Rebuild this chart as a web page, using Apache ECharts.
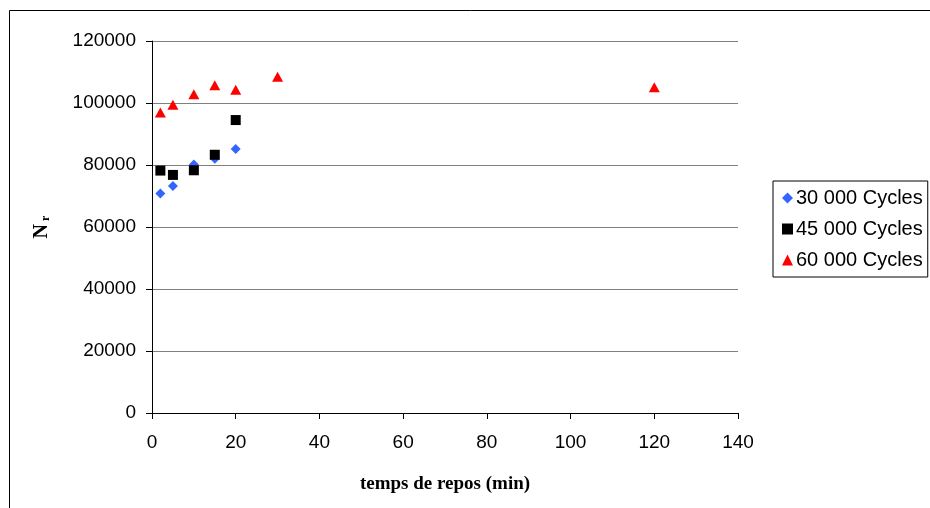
<!DOCTYPE html>
<html>
<head>
<meta charset="utf-8">
<script src="https://cdn.jsdelivr.net/npm/echarts@6/dist/echarts.min.js"></script>
<style>
  html, body { margin: 0; padding: 0; background: #fff; }
  #chart { width: 930px; height: 508px; }
</style>
</head>
<body>
<div id="chart"></div>
<script>
// temps de repos (min) et N r
const seriesNames = ['30 000 Cycles', '45 000 Cycles', '60 000 Cycles'];
const tempsA = [2, 5, 10, 15, 20];
const nrA = [70800, 73200, 80200, 82000, 85200];
const tempsB = [2, 5, 10, 15, 20];
const nrB = [78200, 76800, 78300, 83300, 94500];
const tempsC = [2, 5, 10, 15, 20, 30, 120];
const nrC = [96900, 99400, 102800, 105700, 104300, 108500, 105100];

const pairs = (xs, ys) => xs.map((x, i) => [x, ys[i]]);

const chart = echarts.init(document.getElementById('chart'));

const labelFont = { fontFamily: 'Liberation Sans, Arial, sans-serif', fontSize: 19, color: '#000' };

chart.setOption({
  animation: false,
  backgroundColor: '#fff',
  graphic: [
    {
      type: 'rect',
      shape: { x: 9.5, y: 10.5, width: 1000, height: 1000 },
      style: { fill: 'none', stroke: '#000', lineWidth: 1 },
      silent: true
    }
  ],
  grid: { left: 152, right: 192, top: 41, bottom: 95 },
  legend: {
    orient: 'vertical',
    left: 773,
    top: 181,
    padding: [7, 5, 7, 9],
    itemGap: 11,
    itemWidth: 11,
    itemHeight: 11,
    borderColor: '#000',
    borderWidth: 1,
    textStyle: { fontFamily: 'Liberation Sans, Arial, sans-serif', fontSize: 20, color: '#000', padding: [0, 0, 0, -2] },
    data: seriesNames
  },
  xAxis: {
    type: 'value',
    min: 0,
    max: 140,
    interval: 20,
    name: 'temps de repos (min)',
    nameLocation: 'middle',
    nameGap: 62,
    nameTextStyle: { fontFamily: 'Liberation Serif, Times New Roman, serif', fontWeight: 'bold', fontSize: 19, color: '#000' },
    axisLine: { show: true, lineStyle: { color: '#000', width: 1 } },
    axisTick: { show: true, length: 6, lineStyle: { color: '#000' } },
    axisLabel: Object.assign({ margin: 20 }, labelFont),
    splitLine: { show: false }
  },
  yAxis: {
    type: 'value',
    min: 0,
    max: 120000,
    interval: 20000,
    name: '{n|N}{r| r}',
    nameLocation: 'middle',
    nameGap: 100,
    nameRotate: 90,
    nameTextStyle: {
      rich: {
        n: { fontFamily: 'Liberation Serif, Times New Roman, serif', fontWeight: 'bold', fontSize: 20, color: '#000' },
        r: { fontFamily: 'Liberation Serif, Times New Roman, serif', fontWeight: 'bold', fontSize: 12, color: '#000', padding: [8, 0, 0, 0] }
      }
    },
    axisLine: { show: true, lineStyle: { color: '#000', width: 1 } },
    axisTick: { show: true, length: 6, lineStyle: { color: '#000' } },
    axisLabel: Object.assign({ margin: 16, formatter: v => String(v) }, labelFont),
    splitLine: { show: true, lineStyle: { color: '#808080', width: 1 } }
  },
  series: [
    {
      name: seriesNames[0],
      type: 'scatter',
      symbol: 'diamond',
      symbolSize: [10, 10],
      itemStyle: { color: '#3366ff', opacity: 1 },
      data: pairs(tempsA, nrA)
    },
    {
      name: seriesNames[1],
      type: 'scatter',
      symbol: 'rect',
      symbolSize: 10,
      itemStyle: { color: '#000', opacity: 1 },
      data: pairs(tempsB, nrB)
    },
    {
      name: seriesNames[2],
      type: 'scatter',
      symbol: 'triangle',
      symbolSize: [11, 10],
      itemStyle: { color: '#ff0000', opacity: 1 },
      data: pairs(tempsC, nrC)
    }
  ]
});
</script>
</body>
</html>
